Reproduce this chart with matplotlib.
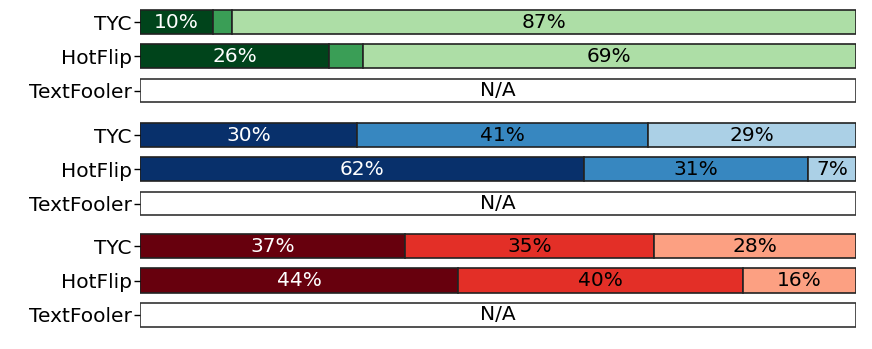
import matplotlib
matplotlib.use("Agg")
import matplotlib.pyplot as plt

methods = ["TYC", "HotFlip", "TextFooler"]

# segment percentages per group (TextFooler = N/A)
green_tyc = [10.2, 2.6, 87.2]
green_hotflip = [26.4, 4.7, 68.9]
blue_tyc = [30.3, 40.6, 29.1]
blue_hotflip = [62.0, 31.3, 6.7]
red_tyc = [37.0, 34.8, 28.2]
red_hotflip = [44.4, 39.8, 15.8]

green_colors = ["#00441b", "#3a9e56", "#addea6"]
blue_colors = ["#08306b", "#3787c0", "#abd0e6"]
red_colors = ["#67000d", "#e32f27", "#fca082"]
text_colors = ["white", "black", "black"]

groups = [
    ([green_tyc, green_hotflip, None], green_colors),
    ([blue_tyc, blue_hotflip, None], blue_colors),
    ([red_tyc, red_hotflip, None], red_colors),
]

W, H = 872, 349
fig = plt.figure(figsize=(W / 100, H / 100), dpi=100)

rects = [(5, 107.6), (118, 220.6), (229, 332)]
left, right = 140 / W, 856 / W
fs = 14.5

for (rows, colors), (top, bot) in zip(groups, rects):
    ax = fig.add_axes([left, 1 - bot / H, right - left, (bot - top) / H])
    for i, vals in enumerate(rows):
        if vals is None:
            ax.barh(i, 100, left=0, height=0.7, color="white",
                    edgecolor="#333333", linewidth=1.2)
            ax.text(50, i, "N/A", ha="center", va="center", fontsize=fs,
                    color="black")
            continue
        start = 0
        for j, v in enumerate(vals):
            ax.barh(i, v, left=start, height=0.7, color=colors[j],
                    edgecolor="#222222", linewidth=1.2)
            if v >= 6:
                ax.text(start + v / 2, i, f"{round(v)}%", ha="center",
                        va="center", fontsize=fs, color=text_colors[j])
            start += v
    ax.set_xlim(0, 100)
    ax.set_ylim(2.5, -0.5)
    ax.set_yticks(range(len(methods)))
    ax.set_yticklabels(methods, fontsize=fs)
    ax.set_xticks([])
    for s in ax.spines.values():
        s.set_visible(False)
    ax.tick_params(axis="y", length=4, width=1, pad=2)

fig.savefig("out.png", dpi=100)
